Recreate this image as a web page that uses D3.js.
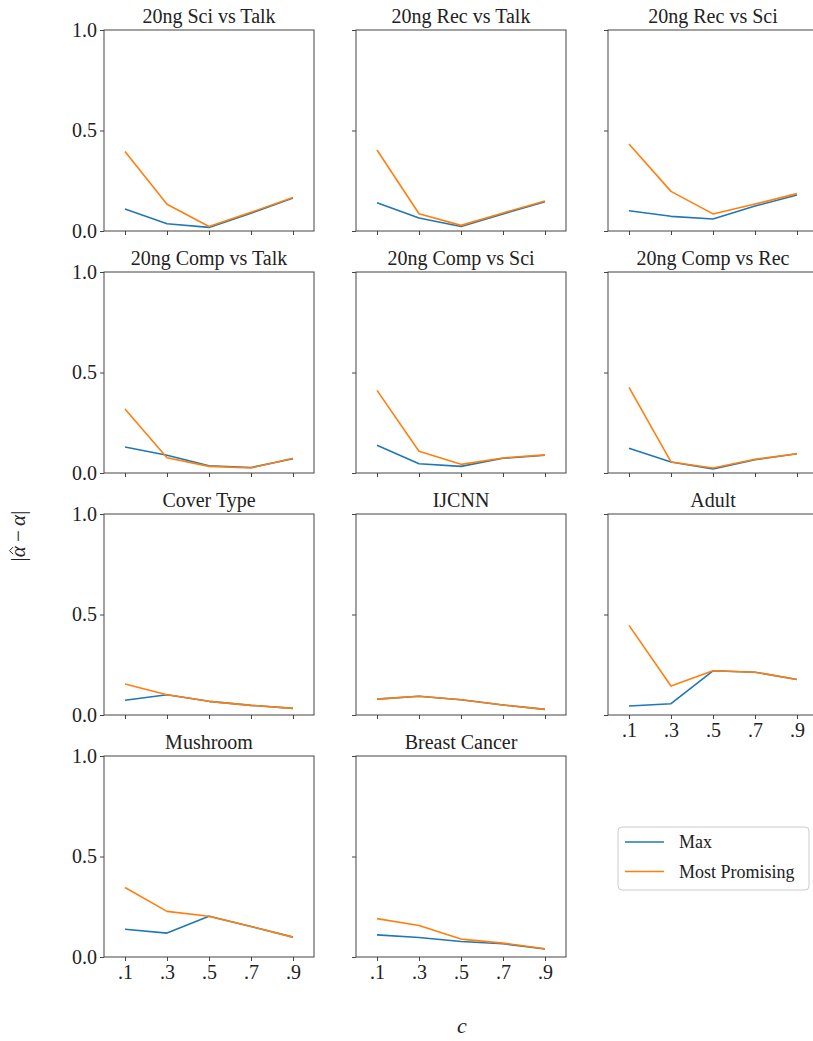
<!DOCTYPE html>
<html>
<head>
<meta charset="utf-8">
<script src="https://cdn.jsdelivr.net/npm/d3@7"></script>
<style>
  body { margin: 0; background: #fff; }
  svg text { font-family: "Liberation Serif", "DejaVu Serif", serif; fill: #222; }
</style>
</head>
<body>
<div id="chart"></div>
<script>
// panel titles, in reading order
var titles = [
  '20ng Sci vs Talk', '20ng Rec vs Talk', '20ng Rec vs Sci',
  '20ng Comp vs Talk', '20ng Comp vs Sci', '20ng Comp vs Rec',
  'Cover Type', 'IJCNN', 'Adult',
  'Mushroom', 'Breast Cancer'
];

var cValues = [0.1, 0.3, 0.5, 0.7, 0.9];
var cLabels = ['.1', '.3', '.5', '.7', '.9'];
var yTicks = [0, 0.5, 1.0];

// |alpha_hat - alpha| for the "Max" estimator
var maxErr = [
  [0.109, 0.036, 0.018, 0.088, 0.164],
  [0.141, 0.065, 0.022, 0.085, 0.146],
  [0.101, 0.073, 0.060, 0.124, 0.179],
  [0.129, 0.088, 0.036, 0.027, 0.071],
  [0.138, 0.046, 0.033, 0.073, 0.088],
  [0.123, 0.055, 0.020, 0.066, 0.096],
  [0.073, 0.101, 0.068, 0.048, 0.033],
  [0.079, 0.093, 0.076, 0.050, 0.028],
  [0.045, 0.056, 0.220, 0.213, 0.177],
  [0.138, 0.119, 0.203, 0.152, 0.099],
  [0.110, 0.097, 0.077, 0.066, 0.040]
];

// |alpha_hat - alpha| for the "Most Promising" estimator
var promisingErr = [
  [0.395, 0.133, 0.022, 0.093, 0.167],
  [0.403, 0.086, 0.028, 0.090, 0.149],
  [0.433, 0.197, 0.085, 0.134, 0.186],
  [0.318, 0.076, 0.033, 0.025, 0.073],
  [0.411, 0.108, 0.043, 0.075, 0.090],
  [0.426, 0.055, 0.025, 0.068, 0.096],
  [0.154, 0.101, 0.068, 0.048, 0.033],
  [0.079, 0.093, 0.076, 0.050, 0.028],
  [0.446, 0.144, 0.220, 0.213, 0.177],
  [0.346, 0.227, 0.203, 0.152, 0.099],
  [0.191, 0.157, 0.089, 0.069, 0.041]
];

var seriesNames = ['Max', 'Most Promising'];
var colors = ['#1f77b4', '#ff7f0e'];

var width = 813;
var height = 1041;

// panel grid geometry
var panelW = 210;
var panelH = 201;
var colLeft = [104, 356, 608];
var rowTop = [30, 272, 514, 756];

var svg = d3.select('#chart').append('svg')
  .attr('width', width)
  .attr('height', height);

var x = d3.scaleLinear().domain([0, 1]).range([0, panelW]);
var y = d3.scaleLinear().domain([0, 1]).range([panelH, 0]);

var line = d3.line()
  .x(function (d, i) { return x(cValues[i]); })
  .y(function (d) { return y(d); });

titles.forEach(function (title, k) {
  var row = Math.floor(k / 3);
  var col = k % 3;
  // bottom panel of each column gets the x tick labels
  var showX = (k >= 8);
  var showY = (col === 0);

  var g = svg.append('g')
    .attr('transform', 'translate(' + colLeft[col] + ',' + rowTop[row] + ')');

  [maxErr[k], promisingErr[k]].forEach(function (vals, s) {
    g.append('path')
      .datum(vals)
      .attr('d', line)
      .attr('fill', 'none')
      .attr('stroke', colors[s])
      .attr('stroke-width', 1.6)
      .attr('stroke-linejoin', 'round');
  });

  var yAxis = d3.axisLeft(y)
    .tickValues(yTicks)
    .tickSize(4)
    .tickPadding(3)
    .tickFormat(showY ? d3.format('.1f') : function () { return ''; });

  var xAxis = d3.axisBottom(x)
    .tickValues(cValues)
    .tickSize(4)
    .tickPadding(4)
    .tickFormat(function (d, i) { return showX ? cLabels[i] : ''; });

  var ya = g.append('g').call(yAxis);
  var xa = g.append('g').attr('transform', 'translate(0,' + panelH + ')').call(xAxis);

  [ya, xa].forEach(function (a) {
    a.attr('font-family', null);
    a.select('.domain').remove();
    a.selectAll('line').attr('stroke', '#444');
    a.selectAll('text')
      .style('font-family', '"Liberation Serif", serif')
      .style('font-size', '20px')
      .attr('fill', '#222');
  });

  g.append('rect')
    .attr('width', panelW)
    .attr('height', panelH)
    .attr('fill', 'none')
    .attr('stroke', '#444')
    .attr('stroke-width', 1);

  g.append('text')
    .attr('x', panelW / 2)
    .attr('y', -7)
    .attr('text-anchor', 'middle')
    .style('font-size', '20px')
    .text(title);
});

// shared y label |alpha_hat - alpha|, the hat is drawn by hand
var yLab = svg.append('g').attr('transform', 'translate(25,536) rotate(-90)');
var yText = yLab.append('text')
  .attr('text-anchor', 'middle')
  .style('font-size', '21px');
yText.append('tspan').text('|');
yText.append('tspan').style('font-style', 'italic').text('α');
yText.append('tspan').text('\u2009\u2212\u2009');
yText.append('tspan').style('font-style', 'italic').text('α');
yText.append('tspan').text('|');

var node = yText.node();
var a0 = node.getStartPositionOfChar(1).x;
var a1 = node.getEndPositionOfChar(1).x;
var hx = (a0 + a1) / 2 + 1;
yLab.append('path')
  .attr('d', 'M' + (hx - 3.5) + ',-12 L' + hx + ',-15.5 L' + (hx + 3.5) + ',-12')
  .attr('fill', 'none')
  .attr('stroke', '#222')
  .attr('stroke-width', 1);

svg.append('text')
  .attr('x', 462)
  .attr('y', 1033)
  .attr('text-anchor', 'middle')
  .style('font-size', '22px')
  .style('font-style', 'italic')
  .text('c');

// legend
var legend = svg.append('g').attr('transform', 'translate(618,827)');

legend.append('rect')
  .attr('width', 191)
  .attr('height', 63)
  .attr('rx', 4)
  .attr('fill', '#fff')
  .attr('stroke', '#ccc');

seriesNames.forEach(function (name, i) {
  var ly = 15 + i * 29.5;
  legend.append('line')
    .attr('x1', 7).attr('x2', 46)
    .attr('y1', ly).attr('y2', ly)
    .attr('stroke', colors[i])
    .attr('stroke-width', 1.6);
  legend.append('text')
    .attr('x', 61)
    .attr('y', ly + 6)
    .style('font-size', '18px')
    .text(name);
});
</script>
</body>
</html>
